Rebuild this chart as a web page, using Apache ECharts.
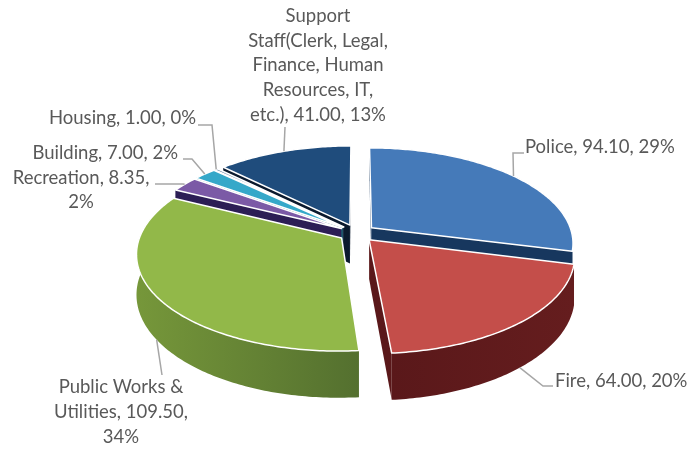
<!DOCTYPE html>
<html>
<head>
<meta charset="utf-8">
<style>html,body{margin:0;padding:0;background:#fff}#chart{width:689px;height:449px}</style>
<script src="https://cdn.jsdelivr.net/npm/echarts@6/dist/echarts.min.js"></script>
</head>
<body>
<div id="chart"></div>
<script>
// Budget split by department, clockwise from twelve o'clock
const categories = ['Police', 'Fire', 'Public Works & Utilities', 'Recreation', 'Building', 'Housing', 'Support Staff'];
const values = [94.10, 64.00, 109.50, 8.35, 7.00, 1.00, 41.00];
const labelTexts = [
  'Police, 94.10, 29%',
  'Fire, 64.00, 20%',
  'Public Works &\nUtilities, 109.50,\n34%',
  'Recreation, 8.35,\n2%',
  'Building, 7.00, 2%',
  'Housing, 1.00, 0%',
  'Support\nStaff(Clerk, Legal,\nFinance, Human\nResources, IT,\netc.), 41.00, 13%'
];
const topColors = ['#457ab9', '#c44e4a', '#92b849', '#7b5aa6', '#35a8c9', '#5c7b9e', '#1f4c7c'];
const wallColors = [
  ['#17375e', '#17375e'], ['#5a181a', '#651d1e'], ['#76973a', '#54702f'],
  ['#2c1e55', '#2c1e55'], ['#1d5c70', '#1d5c70'], ['#22344a', '#22344a'], ['#0b1a2e', '#0b1a2e']
];

// Label placement and the elbow of each leader line
const labelLayout = [
  { x: 525, y: 147, align: 'left', from: [524, 153], elbow: [513, 153] },
  { x: 555, y: 381, align: 'left', from: [553, 386], elbow: [543, 386] },
  { x: 121, y: 412, align: 'center', from: [162, 375], elbow: [162, 375] },
  { x: 81, y: 190, align: 'center', from: [155, 184], elbow: [183, 184] },
  { x: 178, y: 153, align: 'right', from: [183, 159], elbow: [192, 159] },
  { x: 196, y: 118, align: 'right', from: [198, 125], elbow: [212, 125] },
  { x: 318, y: 65.5, align: 'center', from: [285, 127], elbow: [285, 127] }
];

// Perspective pie geometry
const CX = 357, CY = 233;
const RADIUS = 200.5;
const EXPLODE = 18.5;
const TILT = 0.468;
const PERSPECTIVE = 0.156 / RADIUS;
const DEPTH = 39;
const TOTAL = values.reduce((a, b) => a + b, 0);

const starts = [];
values.reduce((acc, v, i) => { starts[i] = acc; return acc + v; }, 0);

function project(x, y, z) {
  const s = 1 / (1 - PERSPECTIVE * y);
  return [CX + x * s, CY + y * TILT * s + (z || 0) * s];
}
function sliceAngles(i) {
  const a0 = starts[i] / TOTAL * Math.PI * 2;
  const a1 = (starts[i] + values[i]) / TOTAL * Math.PI * 2;
  return [a0, a1, (a0 + a1) / 2];
}
function explodeOffset(i) {
  const m = sliceAngles(i)[2];
  return [EXPLODE * Math.sin(m), -EXPLODE * Math.cos(m)];
}
function rimPoint(i, a, z) {
  const o = explodeOffset(i);
  return project(o[0] + RADIUS * Math.sin(a), o[1] - RADIUS * Math.cos(a), z);
}

// Slices further from the viewer are painted first
const paintRank = values.map((_, i) => i)
  .sort((p, q) => explodeOffset(p)[1] - explodeOffset(q)[1])
  .reduce((acc, idx, rank) => { acc[idx] = rank; return acc; }, {});

function wallFaces(apex, rim, mid) {
  const dx = rim[0] - apex[0];
  if (Math.abs(dx) < 1e-6) return false;
  const lineY = apex[1] + (mid[0] - apex[0]) * (rim[1] - apex[1]) / dx;
  return mid[1] < lineY;
}

function renderSlice(params, api) {
  const i = api.value(0);
  const ang = sliceAngles(i);
  const steps = Math.max(2, Math.ceil((ang[1] - ang[0]) / 0.015));
  const top = [], bottom = [];
  for (let k = 0; k <= steps; k++) {
    const a = ang[0] + (ang[1] - ang[0]) * k / steps;
    top.push(rimPoint(i, a, 0));
    bottom.push(rimPoint(i, a, DEPTH));
  }
  const o = explodeOffset(i);
  const apexTop = project(o[0], o[1], 0);
  const apexBottom = project(o[0], o[1], DEPTH);
  const midRim = rimPoint(i, ang[2], 0);
  const base = paintRank[i] * 10;
  const children = [];
  const wc = wallColors[i];

  [[top[0], bottom[0]], [top[steps], bottom[steps]]].forEach(function (edge) {
    if (wallFaces(apexTop, edge[0], midRim)) {
      children.push({
        type: 'polygon', z2: base,
        shape: { points: [apexTop, edge[0], edge[1], apexBottom] },
        style: { fill: wc[0] }
      });
    }
  });
  children.push({
    type: 'polygon', z2: base + 1,
    shape: { points: top.concat(bottom.slice().reverse()) },
    style: {
      fill: { type: 'linear', x: 0, y: 0, x2: 1, y2: 0, colorStops: [{ offset: 0, color: wc[0] }, { offset: 1, color: wc[1] }] }
    }
  });
  children.push({
    type: 'polygon', z2: base + 2,
    shape: { points: [apexTop].concat(top) },
    style: { fill: topColors[i], stroke: '#ffffff', lineWidth: 1.5, lineJoin: 'round' }
  });

  // Leader from the label to the middle of the slice's outer edge
  const front = Math.cos(ang[2]) < 0;
  const l = labelLayout[i];
  children.push({
    type: 'polyline', z2: 200,
    shape: { points: [l.from, l.elbow, rimPoint(i, ang[2], front ? DEPTH : 0)] },
    style: { stroke: '#a6a6a6', lineWidth: 1.5, fill: null }
  });
  children.push({
    type: 'text', z2: 210,
    style: {
      text: labelTexts[i], x: l.x, y: l.y,
      fill: '#595959', font: '18.5px Lato, sans-serif',
      align: l.align, verticalAlign: 'middle', lineHeight: 24.7
    }
  });
  return { type: 'group', children: children };
}

const chart = echarts.init(document.getElementById('chart'), null, { renderer: 'canvas' });
chart.setOption({
  animation: false,
  backgroundColor: '#ffffff',
  series: [{
    type: 'custom',
    coordinateSystem: 'none',
    silent: true,
    renderItem: renderSlice,
    data: categories.map((name, i) => ({ name: name, value: [i, values[i]] }))
  }]
});
</script>
</body>
</html>
